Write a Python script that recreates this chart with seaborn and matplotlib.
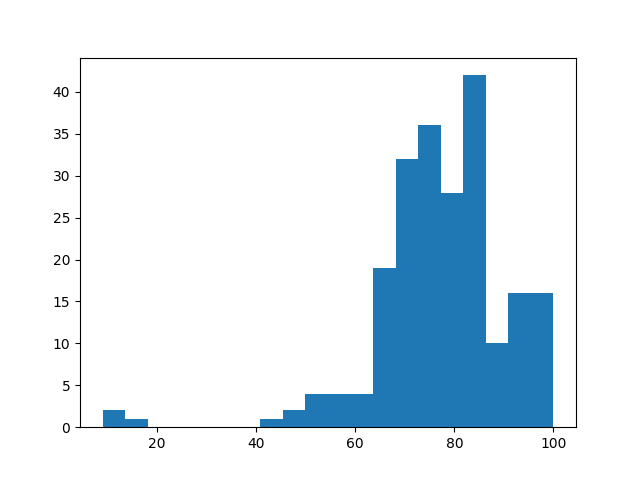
import numpy as np
import pandas as pd
import matplotlib
matplotlib.use("Agg")
import matplotlib.pyplot as plt
import seaborn as sns

# Histogram: 20 equal bins spanning 9 to 100
bin_lo = 9.0
bin_hi = 100.0
n_bins = 20
counts = [2, 1, 0, 0, 0, 0, 0, 1, 2, 4, 4, 4, 19, 32, 36, 28, 42, 10, 16, 16]

edges = np.linspace(bin_lo, bin_hi, n_bins + 1)
centers = (edges[:-1] + edges[1:]) / 2
df = pd.DataFrame({"value": centers, "count": counts})

fig, ax = plt.subplots(figsize=(6.4, 4.8), dpi=100)
sns.histplot(data=df, x="value", weights="count", bins=n_bins,
             binrange=(bin_lo, bin_hi), ax=ax,
             color="#1f77b4", alpha=1.0, edgecolor="none", linewidth=0)
ax.set_xlabel("")
ax.set_ylabel("")
fig.savefig("out.png", dpi=100)
